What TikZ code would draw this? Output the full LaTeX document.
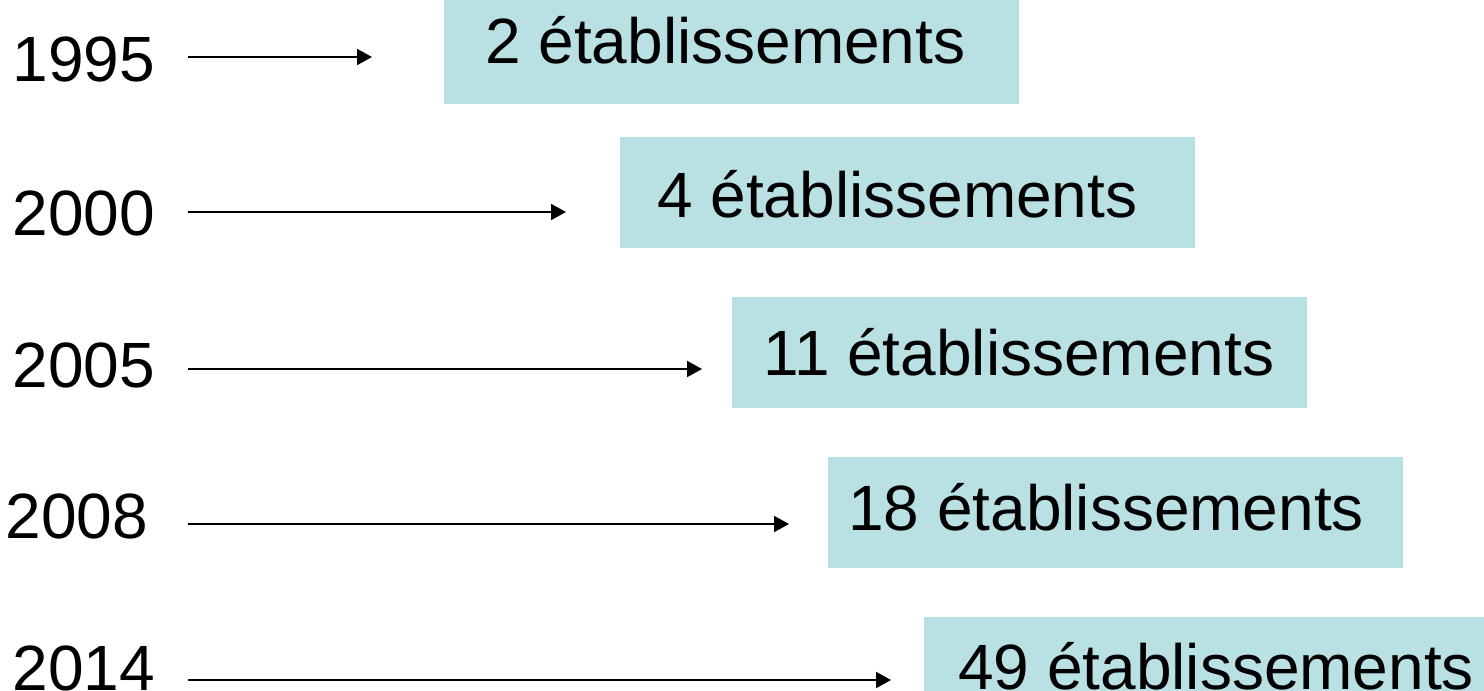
\documentclass[tikz,border=0pt]{standalone}
\usepackage{fontspec}
\setmainfont{Liberation Sans}
\usetikzlibrary{arrows.meta}
\definecolor{boxfill}{RGB}{185,224,227}
\begin{document}
\begin{tikzpicture}[x=1pt,y=-1pt,
  yearlbl/.style={anchor=base east,inner sep=0pt,font=\fontsize{64}{76}\selectfont},
  boxlbl/.style={anchor=base west,inner sep=0pt,font=\fontsize{64}{76}\selectfont},
  tealbox/.style={fill=boxfill,draw=none,anchor=north west,inner sep=0pt,minimum width=575pt,minimum height=111pt},
  timearrow/.style={line width=2pt,-{Triangle[length=15pt,width=16pt]}}]
\useasboundingbox (0,0) rectangle (1484,691);
\clip (0,0) rectangle (1484,691);
% boxes
\node[tealbox,minimum height=104pt] (b1) at (444,0) {};
\node[tealbox] (b2) at (620,137) {};
\node[tealbox] (b3) at (732,297) {};
\node[tealbox] (b4) at (828,457) {};
\node[tealbox] (b5) at (924,617) {};
% box texts
\node[boxlbl] (t1) at (485,63) {2 établissements};
\node[boxlbl] (t2) at (657,217) {4 établissements};
\node[boxlbl] (t3) at (763,375) {11 établissements};
\node[boxlbl] (t4) at (848,530) {18 établissements};
\node[boxlbl] (t5) at (958,689) {49 établissements};
% years
\node[yearlbl] (y1) at (155,81) {1995};
\node[yearlbl] (y2) at (155,235) {2000};
\node[yearlbl] (y3) at (155,387) {2005};
\node[yearlbl] (y4) at (148,538) {2008};
\node[yearlbl] (y5) at (155,690) {2014};
% arrow ends
\coordinate (s1) at (188,57);  \coordinate (e1) at (372,57);
\coordinate (s2) at (188,212); \coordinate (e2) at (566,212);
\coordinate (s3) at (188,369); \coordinate (e3) at (702,369);
\coordinate (s4) at (188,524); \coordinate (e4) at (789,524);
\coordinate (s5) at (188,680); \coordinate (e5) at (891,680);
\foreach \i in {1,...,5} \draw[timearrow] (s\i) -- (e\i);
\end{tikzpicture}
\end{document}
